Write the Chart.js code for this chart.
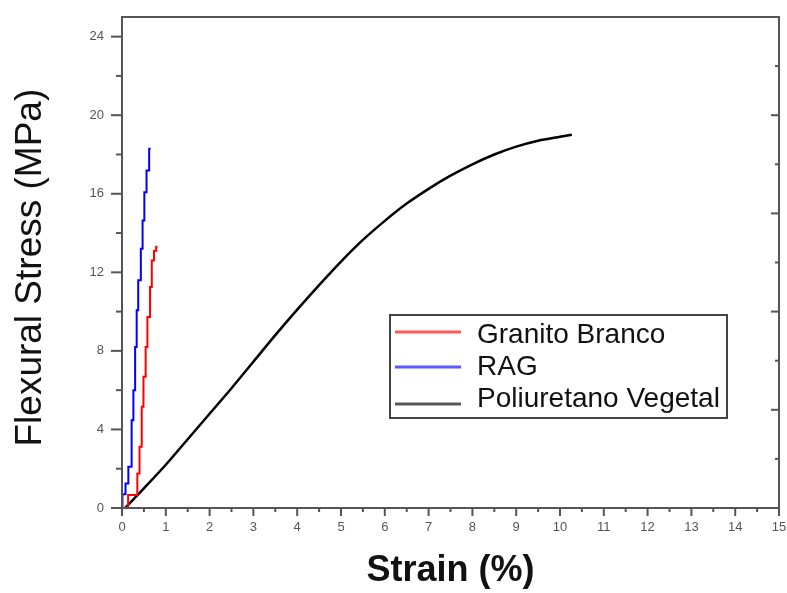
<!DOCTYPE html>
<html>
<head>
<meta charset="utf-8">
<script src="https://cdn.jsdelivr.net/npm/chart.js@4"></script>
<style>
  body { margin: 0; background: #fff; }
  canvas { display: block; }
</style>
</head>
<body>
<canvas id="myChart" width="787" height="593"></canvas>
<script>
// Data
const seriesNames = ["Granito Branco", "RAG", "Poliuretano Vegetal"];
const seriesColors = ["#ff0000", "#0000ff", "#000000"];

const redStrain = [0.14, 0.35, 0.40, 0.45, 0.49, 0.54, 0.58, 0.64, 0.68, 0.73, 0.78, 0.81];
const redStress = [0, 0.66, 1.76, 3.12, 5.15, 6.68, 8.2, 9.73, 11.25, 12.6, 13.1, 13.3];

const blueStrain = [0.01, 0.08, 0.145, 0.22, 0.26, 0.30, 0.335, 0.37, 0.43, 0.47, 0.51, 0.56, 0.62, 0.655];
const blueStress = [0, 0.7, 1.25, 2.1, 4.47, 6.0, 8.2, 10.07, 11.6, 13.2, 14.64, 16.08, 17.18, 18.29];

const blackStrain = [0.07, 0.5, 1, 1.5, 2, 2.5, 3, 3.5, 4, 4.5, 5, 5.5, 6, 6.5, 7, 7.5, 8, 8.5, 9, 9.5, 10, 10.27];
const blackStress = [0, 1.0, 2.2, 3.5, 4.8, 6.1, 7.45, 8.8, 10.1, 11.35, 12.55, 13.65, 14.62, 15.5, 16.25, 16.92, 17.5, 18.0, 18.4, 18.7, 18.9, 19.0];

// Axis tick settings
const xMax = 15;
const yMax = 25;
const yLabelStep = 4;

function toPoints(xs, ys) {
  return xs.map((v, i) => ({ x: v, y: ys[i] }));
}

const datasets = [
  { label: seriesNames[0], data: toPoints(redStrain, redStress), borderColor: seriesColors[0], stepped: "after" },
  { label: seriesNames[1], data: toPoints(blueStrain, blueStress), borderColor: seriesColors[1], stepped: "after" },
  { label: seriesNames[2], data: toPoints(blackStrain, blackStress), borderColor: seriesColors[2], tension: 0.3, borderWidth: 2.5 },
];
datasets.forEach((d) => {
  d.pointRadius = 0;
  d.fill = false;
  if (!d.borderWidth) d.borderWidth = 2;
});

// Frame + major/minor ticks like the Origin plot
const axisDecor = {
  id: "axisDecor",
  afterDatasetsDraw(chart) {
    const { ctx, chartArea: a, scales } = chart;
    const x = scales.x, y = scales.y;
    ctx.save();
    ctx.strokeStyle = "#555";
    ctx.lineWidth = 2;
    const line = (x1, y1, x2, y2) => {
      ctx.beginPath();
      ctx.moveTo(x1, y1);
      ctx.lineTo(x2, y2);
      ctx.stroke();
    };
    ctx.strokeRect(a.left, a.top, a.right - a.left, a.bottom - a.top);
    // bottom: major each 1, minor each 0.5
    for (let v = 0; v <= xMax; v += 0.5) {
      const px = x.getPixelForValue(v);
      const len = v % 1 === 0 ? 8 : 4;
      line(px, a.bottom, px, a.bottom + len);
    }
    // left: major each 4, minor each 2
    for (let v = 0; v <= 24; v += 2) {
      const py = y.getPixelForValue(v);
      const len = v % 4 === 0 ? 11 : 6;
      line(a.left - len, py, a.left, py);
    }
    // right: inward ticks, major each 5, minor each 2.5
    for (let v = 2.5; v < yMax; v += 2.5) {
      const py = y.getPixelForValue(v);
      const len = v % 5 === 0 ? 8 : 4;
      line(a.right - len, py, a.right, py);
    }
    ctx.restore();
  },
};

// Boxed legend inside the plot
const boxLegend = {
  id: "boxLegend",
  afterDraw(chart) {
    const ctx = chart.ctx;
    const box = { left: 390, top: 315, right: 727, bottom: 418 };
    const lineY = [332, 367, 404];
    const textY = [343, 375, 407];
    ctx.save();
    ctx.fillStyle = "#fff";
    ctx.fillRect(box.left, box.top, box.right - box.left, box.bottom - box.top);
    ctx.strokeStyle = "#444";
    ctx.lineWidth = 2;
    ctx.strokeRect(box.left, box.top, box.right - box.left, box.bottom - box.top);
    chart.data.datasets.forEach((ds, i) => {
      ctx.strokeStyle = ds.borderColor;
      ctx.globalAlpha = 0.65;
      ctx.lineWidth = 3;
      ctx.beginPath();
      ctx.moveTo(395, lineY[i]);
      ctx.lineTo(461, lineY[i]);
      ctx.stroke();
      ctx.globalAlpha = 1;
      ctx.fillStyle = "#111";
      ctx.font = '28px "Liberation Sans", Arial, sans-serif';
      ctx.textBaseline = "alphabetic";
      ctx.fillText(ds.label, 477, textY[i]);
    });
    ctx.restore();
  },
};

const tickFont = { family: '"Liberation Sans", Arial, sans-serif', size: 13 };

const myChart = new Chart(document.getElementById("myChart"), {
  type: "line",
  data: { datasets: datasets },
  options: {
    responsive: false,
    animation: false,
    layout: { padding: { top: 17, right: 8, left: 0, bottom: 0 } },
    plugins: {
      legend: { display: false },
      tooltip: { enabled: false },
    },
    scales: {
      x: {
        type: "linear",
        min: 0,
        max: xMax,
        afterFit(s) {
          s.height = 85;
          s.paddingLeft = 0;
          s.paddingRight = 0;
        },
        grid: { display: false, drawTicks: false },
        border: { display: false },
        ticks: { stepSize: 1, padding: 12, color: "#555", font: tickFont, maxRotation: 0, autoSkip: false, includeBounds: false },
        title: {
          display: true,
          text: "Strain (%)",
          color: "#111",
          font: { family: '"Liberation Sans", Arial, sans-serif', size: 36, weight: "bold" },
          padding: 0,
        },
      },
      y: {
        type: "linear",
        min: 0,
        max: yMax,
        afterFit(s) {
          s.width = 122;
          s.paddingTop = 0;
          s.paddingBottom = 0;
        },
        grid: { display: false, drawTicks: false },
        border: { display: false },
        ticks: { stepSize: yLabelStep, padding: 18, color: "#555", font: tickFont, includeBounds: false },
        title: {
          display: true,
          text: "Flexural Stress (MPa)\u00a0",
          color: "#111",
          font: { family: '"Liberation Sans", Arial, sans-serif', size: 37 },
          padding: { top: 9, bottom: 0 },
        },
      },
    },
  },
  plugins: [axisDecor, boxLegend],
});
</script>
</body>
</html>
